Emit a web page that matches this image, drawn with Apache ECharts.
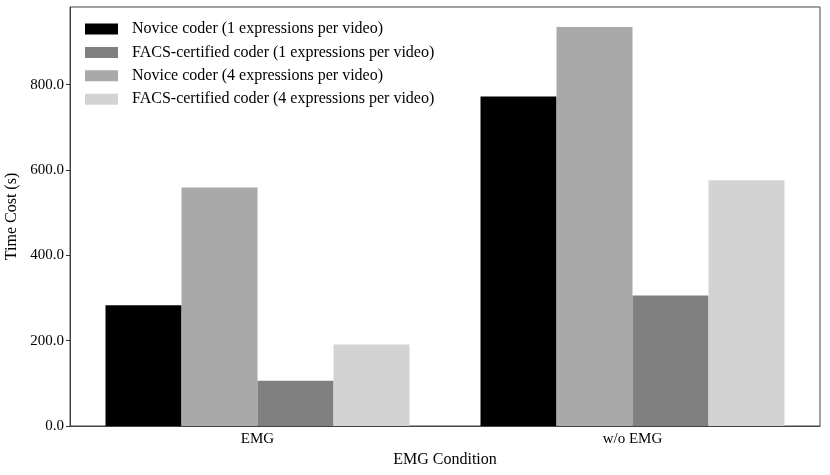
<!DOCTYPE html>
<html>
<head>
<meta charset="utf-8">
<script src="https://cdn.jsdelivr.net/npm/echarts@6/dist/echarts.min.js"></script>
<style>
  html, body { margin: 0; padding: 0; background: #fff; }
  #chart { width: 830px; height: 475px; }
</style>
</head>
<body>
<div id="chart"></div>
<script>
// categories and values
let conditions = ['EMG', 'w/o EMG']
let novice1 = [283, 772]
let novice4 = [559, 935]
let facs1 = [106, 306]
let facs4 = [191, 576]
let yTicks = [0, 200, 400, 600, 800]

let names = {
  novice1: 'Novice coder (1 expressions per video)',
  facs1: 'FACS-certified coder (1 expressions per video)',
  novice4: 'Novice coder (4 expressions per video)',
  facs4: 'FACS-certified coder (4 expressions per video)'
}

let font = 'Liberation Serif'
let ch = echarts.init(document.getElementById('chart'))

let bar = (name, data, color) => ({
  name: name,
  type: 'bar',
  data: data,
  itemStyle: { color: color },
  barWidth: 76,
  barGap: '0%',
  emphasis: { disabled: true }
})

let option = {
  animation: false,
  textStyle: { fontFamily: font },
  legend: {
    data: [names.novice1, names.facs1, names.novice4, names.facs4],
    orient: 'vertical',
    left: 80,
    top: 16,
    itemWidth: 33,
    itemHeight: 11,
    itemGap: 7.4,
    icon: 'rect',
    textStyle: { fontFamily: font, fontSize: 16, color: '#000', padding: [0, 0, 0, 9] }
  },
  grid: {
    left: 70,
    right: 10,
    top: 7,
    bottom: 49,
    outerBoundsMode: 'none',
    containLabel: false,
    show: true,
    borderColor: '#444',
    borderWidth: 1
  },
  xAxis: {
    type: 'category',
    data: conditions,
    name: 'EMG Condition',
    nameLocation: 'middle',
    nameGap: 21,
    nameTextStyle: { fontFamily: font, fontSize: 16, color: '#000' },
    axisLine: { lineStyle: { color: '#444' } },
    axisTick: { alignWithLabel: true, length: 4, lineStyle: { color: '#333' } },
    axisLabel: { fontFamily: font, fontSize: 15, color: '#000', margin: 6 },
    splitLine: { show: false }
  },
  yAxis: {
    type: 'value',
    min: 0,
    max: 982,
    interval: 200,
    name: 'Time Cost (s)',
    nameLocation: 'middle',
    nameGap: 47,
    nameTextStyle: { fontFamily: font, fontSize: 16, color: '#000' },
    axisLine: { show: true, lineStyle: { color: '#444' } },
    axisTick: { show: true, length: 4, lineStyle: { color: '#333' } },
    axisLabel: {
      fontFamily: font,
      fontSize: 15,
      color: '#000',
      margin: 6,
      showMaxLabel: false,
      formatter: v => yTicks.indexOf(v) >= 0 ? v.toFixed(1) : ''
    },
    splitLine: { show: false }
  },
  series: [
    bar(names.novice1, novice1, '#000000'),
    bar(names.novice4, novice4, '#a9a9a9'),
    bar(names.facs1, facs1, '#808080'),
    bar(names.facs4, facs4, '#d3d3d3')
  ]
}
ch.setOption(option)
</script>
</body>
</html>
